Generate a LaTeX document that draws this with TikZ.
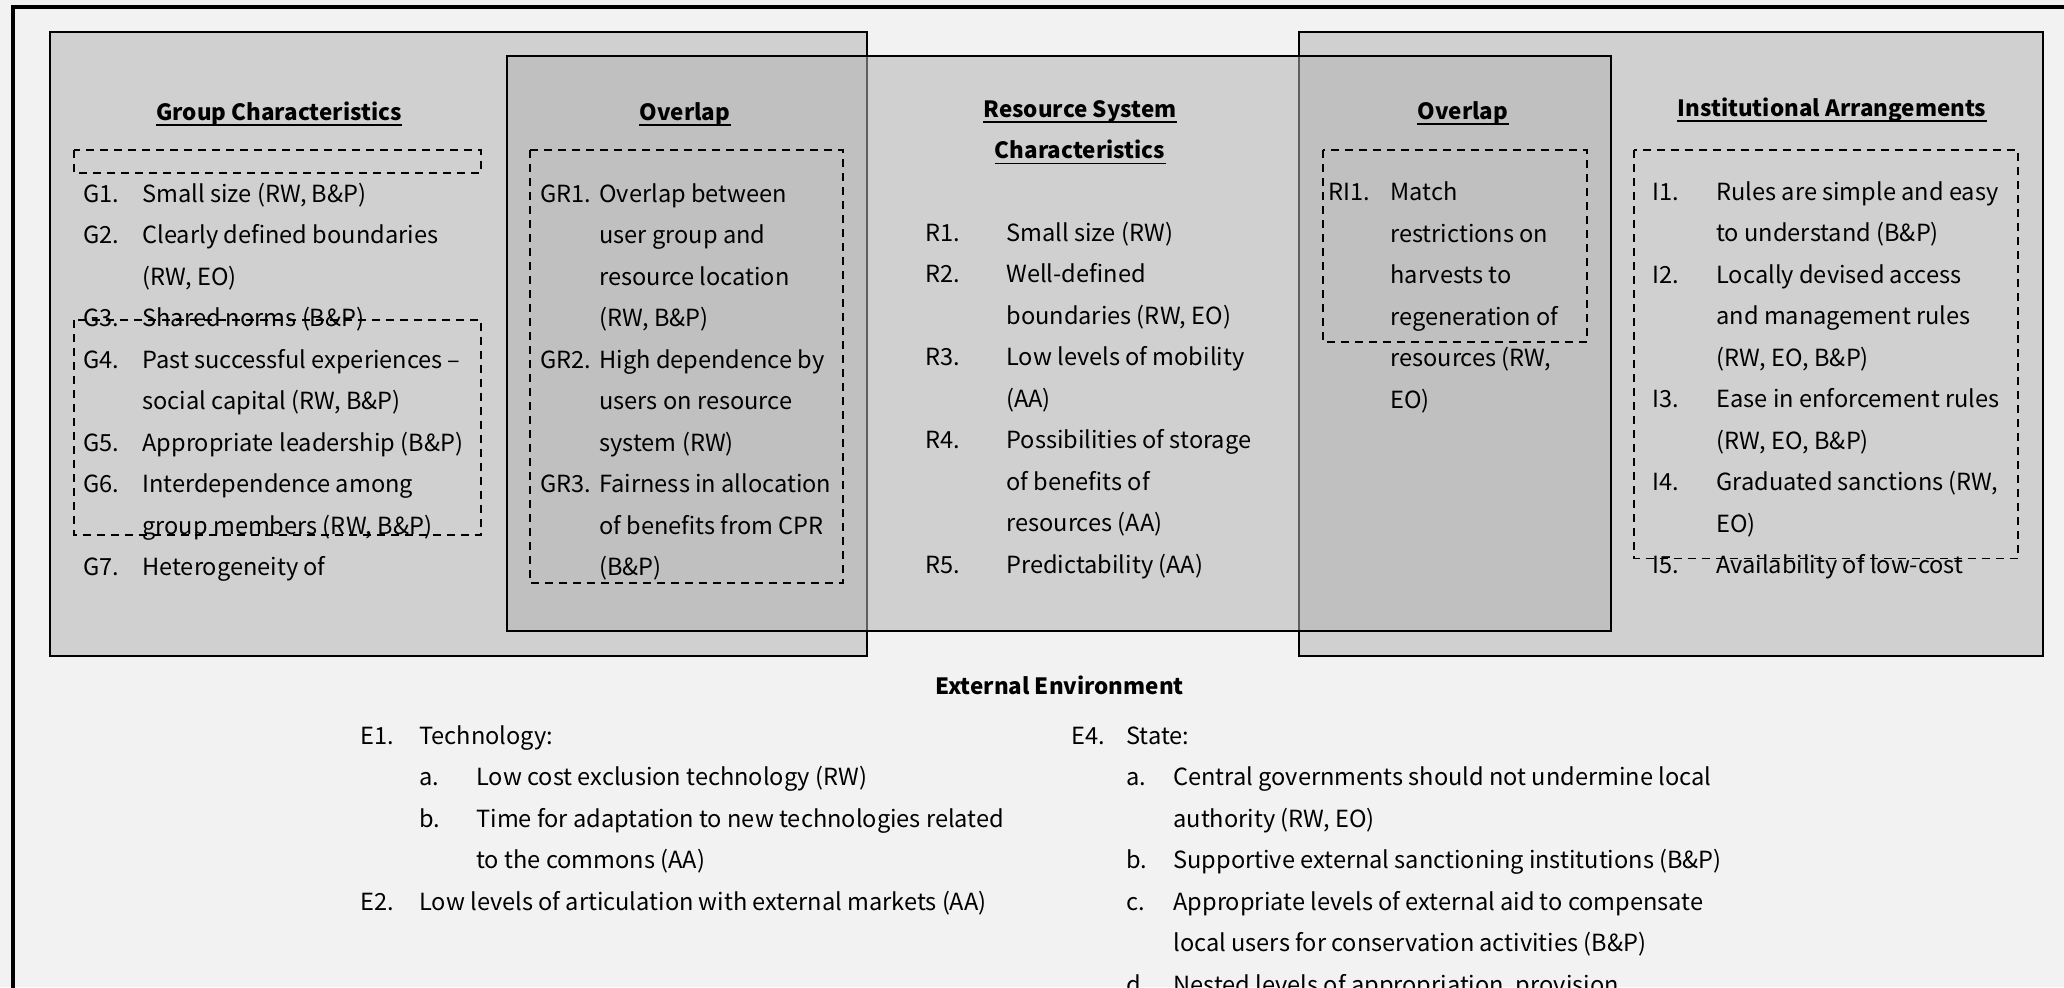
\documentclass[tikz,border=0pt]{standalone}
\usepackage{fontspec}
\setmainfont{Noto Sans CJK KR}
\usetikzlibrary{positioning}
\definecolor{pagebg}{HTML}{F2F2F2}
\definecolor{panelgray}{HTML}{B2B2B2}

\tikzset{
  panel/.style={draw=black, line width=1pt, fill=panelgray, fill opacity=0.53},
  subset/.style={line width=0.9pt, dash pattern=on 4pt off 3pt},
  lab/.style={anchor=base west, inner sep=0pt},
  % multi-line items are anchored at the baseline of their last line
  itm/.style={anchor=base west, inner sep=0pt, align=left},
  head/.style={anchor=base, inner sep=0pt, font=\fontsize{11.2pt}{20.75pt}\selectfont\bfseries},
  uline/.style={line width=0.9pt}
}

\begin{document}
\begin{tikzpicture}[x=0.5pt,y=-0.5pt,
    every node/.style={font=\fontsize{11.8pt}{20.75pt}\selectfont}]
  \useasboundingbox (0,0) rectangle (2064,987);
  \clip (0,0) rectangle (2064,987);
  \fill[pagebg] (0,0) rectangle (2064,987);
  % page frame
  \draw[line width=2pt] (13,7) rectangle (2100,1020);

  % the three sets, the middle one on top
  \draw[panel] (50,32) rectangle (867,656);
  \draw[panel] (1299,32) rectangle (2043,656);
  \draw[panel] (507,56) rectangle (1611,631);

  % headings
  \node[head] (hgrp) at (279,120) {Group Characteristics};
  \node[head] (hov1) at (685,120) {Overlap};
  \node[head] (hres1) at (1080,117) {Resource System};
  \node[head] (hres2) at (1080,158.5) {Characteristics};
  \node[head] (hov2) at (1463,119) {Overlap};
  \node[head] (hins) at (1832,116) {Institutional Arrangements};
  \foreach \h in {hgrp,hov1,hres1,hres2,hov2,hins}
    \draw[uline] ([yshift=-2.5pt]\h.base west) -- ([yshift=-2.5pt]\h.base east);

  % group characteristics (first row / last row)
  \foreach \n/\txt/\k/\j in {1/{Small size (RW, B\&P)}/0/0,
      2/{Clearly defined boundaries\\(RW, EO)}/1/2,
      3/{Shared norms (B\&P)}/3/3,
      4/{Past successful experiences --\\social capital (RW, B\&P)}/4/5,
      5/{Appropriate leadership (B\&P)}/6/6,
      6/{Interdependence among\\group members (RW, B\&P)}/7/8,
      7/{Heterogeneity of}/9/9}{
    \node[lab] (g\n l) at (83,{202+41.5*\k}) {G\n.};
    \node[itm] (g\n) at (142,{202+41.5*\j}) {\txt};
  }

  % overlap group / resource
  \foreach \n/\txt/\k/\j in {1/{Overlap between\\user group and\\resource location\\(RW, B\&P)}/0/3,
      2/{High dependence by\\users on resource\\system (RW)}/4/6,
      3/{Fairness in allocation\\of benefits from CPR\\(B\&P)}/7/9}{
    \node[lab] (gr\n l) at (540,{202+41.5*\k}) {GR\n.};
    \node[itm] (gr\n) at (599,{202+41.5*\j}) {\txt};
  }

  % resource system
  \foreach \n/\txt/\k/\j in {1/{Small size (RW)}/0/0,
      2/{Well-defined\\boundaries (RW, EO)}/1/2,
      3/{Low levels of mobility\\(AA)}/3/4,
      4/{Possibilities of storage\\of benefits of\\resources (AA)}/5/7,
      5/{Predictability (AA)}/8/8}{
    \node[lab] (r\n l) at (925,{241+41.5*\k}) {R\n.};
    \node[itm] (r\n) at (1006,{241+41.5*\j}) {\txt};
  }

  % overlap resource / institutions
  \node[lab] (ri1l) at (1328,200.5) {RI1.};
  \node[itm] (ri1) at (1390,408) {Match\\restrictions on\\harvests to\\regeneration of\\resources (RW,\\EO)};

  % institutional arrangements
  \foreach \n/\txt/\k/\j in {1/{Rules are simple and easy\\to understand (B\&P)}/0/1,
      2/{Locally devised access\\and management rules\\(RW, EO, B\&P)}/2/4,
      3/{Ease in enforcement rules\\(RW, EO, B\&P)}/5/6,
      4/{Graduated sanctions (RW,\\EO)}/7/8,
      5/{Availability of low-cost}/9/9}{
    \node[lab] (i\n l) at (1652,{200+41.5*\k}) {I\n.};
    \node[itm] (i\n) at (1716,{200+41.5*\j}) {\txt};
  }

  % dashed groupings
  \draw[subset] (74,150) rectangle (481,173);
  \draw[subset] (74,320) rectangle (481,535);
  \draw[subset] (530,150) rectangle (843,583);
  \draw[subset] (1323,150) rectangle (1587,342);
  \draw[subset] (1634,150) rectangle (2018,558.5);

  % external environment
  \node[head] (hext) at (1059.5,694) {External Environment};

  \node[lab] (e1l) at (360,744) {E1.};
  \node[itm] (e1) at (419,744) {Technology:};
  \node[lab] (e1al) at (419,785.5) {a.};
  \node[itm] (e1a) at (476,785.5) {Low cost exclusion technology (RW)};
  \node[lab] (e1bl) at (419,827) {b.};
  \node[itm] (e1b) at (476,868.5) {Time for adaptation to new technologies related\\to the commons (AA)};
  \node[lab] (e2l) at (360,910) {E2.};
  \node[itm] (e2) at (419,910) {Low levels of articulation with external markets (AA)};

  \node[lab] (e4l) at (1071,744) {E4.};
  \node[itm] (e4) at (1126,744) {State:};
  \node[lab] (e4al) at (1126,785.5) {a.};
  \node[itm] (e4a) at (1173,827) {Central governments should not undermine local\\authority (RW, EO)};
  \node[lab] (e4bl) at (1126,868.5) {b.};
  \node[itm] (e4b) at (1173,868.5) {Supportive external sanctioning institutions (B\&P)};
  \node[lab] (e4cl) at (1126,910) {c.};
  \node[itm] (e4c) at (1173,951.5) {Appropriate levels of external aid to compensate\\local users for conservation activities (B\&P)};
  \node[lab] (e4dl) at (1126,993) {d.};
  \node[itm] (e4d) at (1173,993) {Nested levels of appropriation, provision};
\end{tikzpicture}
\end{document}
